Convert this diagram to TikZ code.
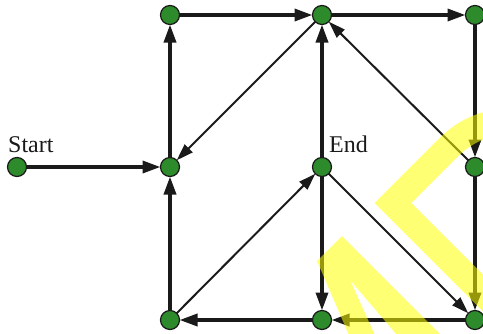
\documentclass[tikz,border=0pt]{standalone}
\usepackage{fontspec}
\setmainfont{Liberation Serif}
\usepackage{xcolor}
\usepackage{tikz}
\usetikzlibrary{positioning, arrows.meta}
\definecolor{gnfill}{HTML}{2E8B2B}
\definecolor{gnline}{HTML}{1A1A1A}
\definecolor{gnmark}{HTML}{FFFF00}

\begin{document}
\begin{tikzpicture}[x=1pt, y=-1pt,
  vertex/.style={circle, fill=gnfill, draw=gnline, line width=1.2pt,
                 minimum size=19pt, inner sep=0pt, outer sep=0pt},
  heavyedge/.style={-{Triangle[length=18pt, width=12pt]}, color=gnline, line width=3.4pt},
  lightedge/.style={-{Triangle[length=17pt, width=11pt]}, color=gnline, line width=2pt},
  tag/.style={inner sep=0pt, font=\fontsize{24pt}{28pt}\selectfont, text=gnline}
]
\useasboundingbox (0,0) rectangle (483,333);
% grid of vertices
\foreach \n/\xx/\yy in {st/17/167, ml/170/167, tl/170/15, tm/322/15, tr/475/15,
                        en/322/167, mr/475/167, bl/170/320, bm/322/320, br/475/320} {
  \node[vertex] (\n) at (\xx,\yy) {};
}
\node[tag, anchor=base west] (lstart) at (8,152) {Start};
\node[tag, anchor=base west] (lend) at (329,152) {End};
% heavy connectors
\foreach \a/\b in {st/ml, ml/tl, tl/tm, tm/tr, tr/mr, mr/br, br/bm, bm/bl, bl/ml, en/tm, en/bm} {
  \draw[heavyedge] (\a) -- (\b);
}
% light diagonals
\foreach \a/\b in {tm/ml, bl/en, en/br, mr/tm} {
  \draw[lightedge] (\a) -- (\b);
}
% yellow marks on top
\fill[gnmark, opacity=0.55] (317,261) -- (342,236) -- (448,342) -- (403,342)
  -- (350,280) -- (378,342) -- (352,342) -- cycle;
\draw[gnmark, opacity=0.55, line width=26pt, line join=miter]
  (500,310) -- (393,203) -- (438,158) .. controls (452,144) and (466,127) .. (500,122);
\end{tikzpicture}
\end{document}
